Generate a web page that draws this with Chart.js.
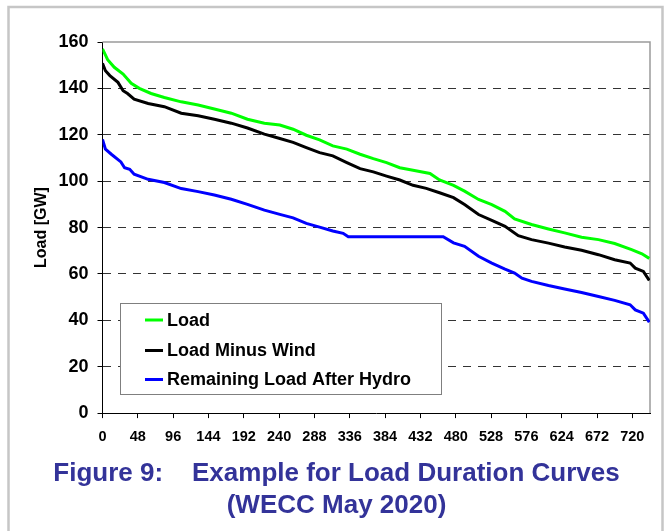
<!DOCTYPE html>
<html>
<head>
<meta charset="utf-8">
<title>Load Duration Curves</title>
<script src="https://cdn.jsdelivr.net/npm/chart.js@4/dist/chart.umd.min.js"></script>
<style>
  html, body { margin: 0; padding: 0; background: #ffffff; }
  #wrap { width: 665px; height: 531px; }
</style>
</head>
<body>
<div id="wrap"><canvas id="chart" width="665" height="531"></canvas></div>
<script>
// Hours of the month (sorted, duration order) and load in GW for each curve
const loadHours = [0, 7, 16, 28, 39, 50, 66, 84, 107, 130, 152, 175, 197, 220, 241, 259, 277, 295, 313, 332, 350, 368, 386, 404, 422, 445, 458, 477, 492, 511, 529, 547, 560, 583, 606, 628, 651, 674, 696, 719, 733, 743];
const loadValues = [157, 152.4, 149.1, 146.2, 142.2, 140, 137.8, 136.1, 134.2, 132.8, 131.1, 129.3, 126.7, 125, 124.2, 122.4, 119.8, 117.8, 115.2, 113.8, 111.6, 109.7, 108, 105.8, 104.7, 103.3, 100.5, 98.2, 95.7, 92.1, 89.9, 87, 83.7, 81.3, 79.4, 77.7, 75.8, 74.8, 73.1, 70.5, 68.7, 66.7];

const netWindHours = [0, 4, 10, 21, 28, 34, 43, 62, 84, 107, 130, 152, 175, 197, 220, 241, 259, 277, 295, 313, 332, 350, 368, 386, 404, 422, 440, 458, 477, 492, 511, 529, 547, 565, 583, 606, 628, 651, 674, 696, 717, 724, 735, 743];
const netWindValues = [150.8, 147.6, 145.5, 142.6, 139, 137.8, 135.4, 133.5, 132.1, 129.3, 128.2, 126.7, 125, 122.9, 120.3, 118.4, 116.7, 114.5, 112.3, 110.9, 108, 105.4, 104, 102.2, 100.5, 98.2, 96.9, 95, 92.9, 89.9, 85.6, 83.1, 80.5, 76.5, 74.8, 73.3, 71.6, 70.2, 68.3, 66.1, 64.7, 62.5, 61.1, 57.2];

const hydroHours = [0, 4, 12, 25, 30, 37, 43, 62, 84, 107, 130, 152, 175, 197, 220, 241, 259, 277, 295, 313, 327, 334, 463, 477, 492, 511, 529, 547, 560, 570, 583, 606, 628, 651, 674, 696, 717, 724, 735, 743];
const hydroValues = [118, 113.8, 111.6, 108.3, 105.8, 105.1, 103, 100.8, 99.4, 96.8, 95.5, 94, 92.2, 90, 87.5, 85.7, 84.2, 81.8, 80.2, 78.5, 77.5, 76, 76, 73.4, 71.9, 67.6, 64.7, 62.1, 60.4, 58.2, 56.8, 55, 53.5, 52, 50.3, 48.6, 46.7, 44.5, 43.1, 39.2];

const seriesNames = ['Load', 'Load Minus Wind', 'Remaining Load After Hydro'];
const seriesColors = ['#00ff00', '#000000', '#0000ff'];
const titleLines = ['Figure 9:    Example for Load Duration Curves', '(WECC May 2020)'];
const yAxisTitle = 'Load [GW]';

const FONT = "'Liberation Sans', Arial, sans-serif";

function toPoints(hours, values) {
  return hours.map((h, i) => ({ x: h, y: values[i] }));
}

// Light frame around the whole figure, grey top/right edges of the plot,
// and a boxed legend placed inside the plot area.
const framePlugin = {
  id: 'frame',
  beforeDraw(chart) {
    const ctx = chart.ctx;
    ctx.save();
    ctx.fillStyle = '#ffffff';
    ctx.fillRect(0, 0, chart.width, chart.height);
    ctx.strokeStyle = '#c6c6c6';
    ctx.lineWidth = 2.5;
    ctx.beginPath();
    ctx.moveTo(8.5, chart.height + 5);
    ctx.lineTo(8.5, 7);
    ctx.lineTo(662.5, 7);
    ctx.lineTo(662.5, chart.height + 5);
    ctx.stroke();
    ctx.restore();
  },
  beforeDatasetsDraw(chart) {
    const { ctx, chartArea: a } = chart;
    ctx.save();
    ctx.strokeStyle = '#9a9a9a';
    ctx.lineWidth = 1.5;
    ctx.beginPath();
    ctx.moveTo(a.left, a.top);
    ctx.lineTo(a.right, a.top);
    ctx.lineTo(a.right, a.bottom);
    ctx.stroke();
    ctx.restore();
  },
  afterDatasetsDraw(chart) {
    const ctx = chart.ctx;
    const box = { x: 120.5, y: 303.5, w: 321, h: 91 };
    const rows = [320, 350.5, 379.5];
    ctx.save();
    ctx.fillStyle = '#ffffff';
    ctx.fillRect(box.x, box.y, box.w, box.h);
    ctx.strokeStyle = '#7f7f7f';
    ctx.lineWidth = 1;
    ctx.strokeRect(box.x, box.y, box.w, box.h);
    ctx.font = 'bold 18px ' + FONT;
    ctx.textBaseline = 'middle';
    ctx.textAlign = 'left';
    chart.data.datasets.forEach((ds, i) => {
      ctx.strokeStyle = ds.borderColor;
      ctx.lineWidth = 3;
      ctx.beginPath();
      ctx.moveTo(145, rows[i]);
      ctx.lineTo(163, rows[i]);
      ctx.stroke();
      ctx.fillStyle = '#000000';
      ctx.fillText(ds.label, 167, rows[i] + 1);
    });
    ctx.restore();
  }
};

const makeDataset = (i, hours, values) => ({
  label: seriesNames[i],
  data: toPoints(hours, values),
  borderColor: seriesColors[i],
  backgroundColor: seriesColors[i],
  borderWidth: 3,
  pointRadius: 0,
  tension: 0,
  fill: false
});

new Chart(document.getElementById('chart'), {
  type: 'line',
  data: {
    datasets: [
      makeDataset(0, loadHours, loadValues),
      makeDataset(1, netWindHours, netWindValues),
      makeDataset(2, hydroHours, hydroValues)
    ]
  },
  plugins: [framePlugin],
  options: {
    responsive: false,
    animation: false,
    layout: { padding: { left: 23, right: 15, top: 42, bottom: 0 } },
    plugins: {
      legend: { display: false },
      tooltip: { enabled: false },
      title: {
        display: true,
        position: 'bottom',
        text: titleLines,
        color: '#333399',
        font: { family: FONT, size: 26, weight: 'bold', lineHeight: 1.2 },
        padding: { top: 0, bottom: 10 }
      }
    },
    scales: {
      x: {
        type: 'linear',
        min: 0,
        max: 744,
        afterFit(scale) { scale.height = 45.5; },
        ticks: {
          stepSize: 48,
          includeBounds: false,
          autoSkip: false,
          maxRotation: 0,
          padding: 10,
          color: '#000000',
          font: { family: FONT, size: 14.5, weight: 'bold' }
        },
        grid: {
          drawOnChartArea: false,
          drawTicks: true,
          tickLength: 5,
          tickColor: '#000000',
          tickWidth: 1
        },
        border: { display: true, color: '#000000', width: 1 }
      },
      y: {
        min: 0,
        max: 160,
        afterFit(scale) { scale.width = 79.5; },
        ticks: {
          stepSize: 20,
          padding: 9,
          color: '#000000',
          font: { family: FONT, size: 18, weight: 'bold' }
        },
        title: {
          display: true,
          text: yAxisTitle,
          color: '#000000',
          font: { family: FONT, size: 16, weight: 'bold' },
          padding: { top: 9, bottom: 0 }
        },
        grid: {
          drawOnChartArea: true,
          drawTicks: true,
          tickLength: 5,
          tickColor: '#000000',
          tickBorderDash: [],
          lineWidth: 1,
          color: (c) => (c.tick && (c.tick.value === 0 || c.tick.value === 160)) ? 'rgba(0,0,0,0)' : '#333333'
        },
        border: { display: true, color: '#000000', width: 1, dash: [8, 7] }
      }
    }
  }
});
</script>
</body>
</html>
